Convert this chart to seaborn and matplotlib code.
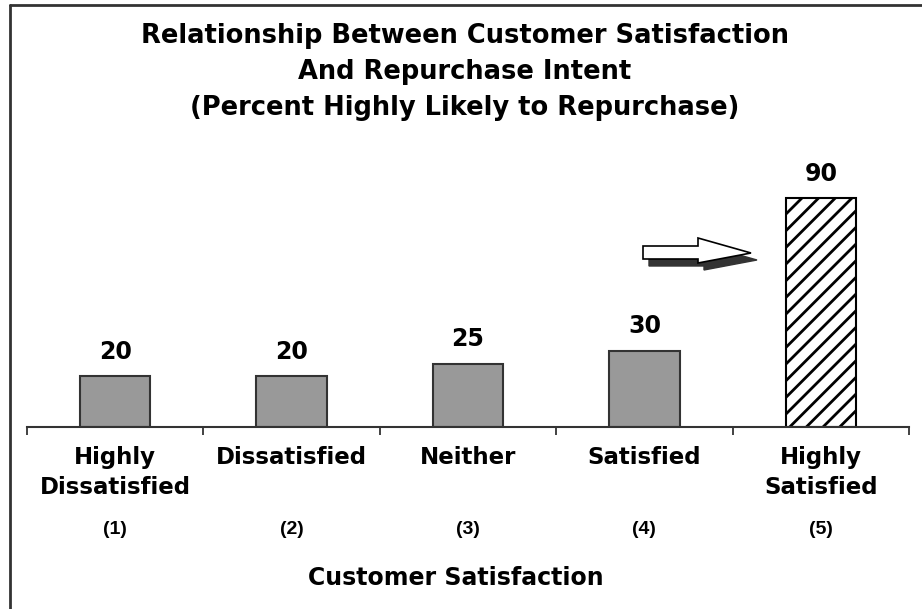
import matplotlib
matplotlib.use("Agg")
import matplotlib.pyplot as plt
import seaborn as sns
import pandas as pd
from matplotlib.lines import Line2D
from matplotlib.patches import Polygon
import matplotlib.transforms as mtransforms

# ---- data ----
categories = ["Highly\nDissatisfied", "Dissatisfied", "Neither", "Satisfied", "Highly\nSatisfied"]
scale_codes = ["(1)", "(2)", "(3)", "(4)", "(5)"]
percent_repurchase = [20, 20, 25, 30, 90]
title_text = ("Relationship Between Customer Satisfaction\n"
              "And Repurchase Intent\n"
              "(Percent Highly Likely to Repurchase)")
xlabel_text = "Customer Satisfaction"

sns.set_theme(style="white")
plt.rcParams["font.family"] = ["DejaVu Sans"]
plt.rcParams["font.weight"] = "bold"
plt.rcParams["hatch.linewidth"] = 2.0

W, H = 922, 609
fig = plt.figure(figsize=(W / 100, H / 100), dpi=100)
fig.patch.set_facecolor("white")

ax_left, ax_right, ax_base = 27, 909, 427
ax_h = 254
ax = fig.add_axes([ax_left / W, (H - ax_base) / H, (ax_right - ax_left) / W, ax_h / H])
ax.set_facecolor("none")

df = pd.DataFrame({"cat": categories, "val": percent_repurchase})
sns.barplot(data=df, x="cat", y="val", width=0.4, color="#999999",
            edgecolor="#333333", linewidth=1.5, saturation=1, ax=ax)

bars = ax.patches
bars[-1].set_facecolor("white")
bars[-1].set_hatch("//")
bars[-1].set_edgecolor("black")

ax.set_xlim(-0.5, len(categories) - 0.5)
ax.set_ylim(0, 100)

for c in ax.containers:
    ax.bar_label(c, fmt="%d", padding=9, fontsize=17, fontweight="bold", color="black")

# spines / ticks
for s in ["left", "right", "top"]:
    ax.spines[s].set_visible(False)
ax.spines["bottom"].set_color("#333333")
ax.spines["bottom"].set_linewidth(1.5)
ax.set_yticks([])
ax.set_xticks(range(len(categories)))
ax.set_xticklabels(categories, fontsize=16.5, fontweight="bold", linespacing=1.35)
ax.tick_params(axis="x", which="major", bottom=True, length=0, pad=14, colors="black")
ax.set_xticks([i - 0.5 for i in range(len(categories) + 1)], minor=True)
ax.tick_params(axis="x", which="minor", bottom=True, length=6, width=1.3,
               color="#333333", direction="out")
ax.set_xlabel("")
ax.set_ylabel("")

# scale codes under categories
blend = mtransforms.blended_transform_factory(ax.transData, fig.transFigure)
for i, code in enumerate(scale_codes):
    ax.text(i, 1 - 530 / H, code, transform=blend, ha="center", va="center",
            fontsize=14, fontweight="bold", color="black",
            family=["Liberation Sans", "DejaVu Sans"])

fig.text(456 / W, 1 - 578 / H, xlabel_text, ha="center", va="center",
         fontsize=17, fontweight="bold", color="black")

fig.text(465 / W, 1 - 72 / H, title_text, ha="center", va="center",
         fontsize=18.5, fontweight="bold", color="black", linespacing=1.5)

# frame lines (top and left)
fig.add_artist(Line2D([10 / W, 1], [1 - 5 / H, 1 - 5 / H], transform=fig.transFigure,
                      color="#333333", lw=2))
fig.add_artist(Line2D([10 / W, 10 / W], [0, 1 - 5 / H], transform=fig.transFigure,
                      color="#333333", lw=2))

# block arrow with shadow
arrow_px = [(643, 246), (698, 246), (698, 238), (751, 253), (698, 263), (698, 259), (643, 259)]
def to_fig(pts, dx=0, dy=0):
    return [((x + dx) / W, 1 - (y + dy) / H) for x, y in pts]
fig.add_artist(Polygon(to_fig(arrow_px, 6, 7), closed=True, transform=fig.transFigure,
                       facecolor="#333333", edgecolor="#333333", lw=1))
fig.add_artist(Polygon(to_fig(arrow_px), closed=True, transform=fig.transFigure,
                       facecolor="white", edgecolor="black", lw=1.2))

fig.savefig("out.png", dpi=100, facecolor="white")
